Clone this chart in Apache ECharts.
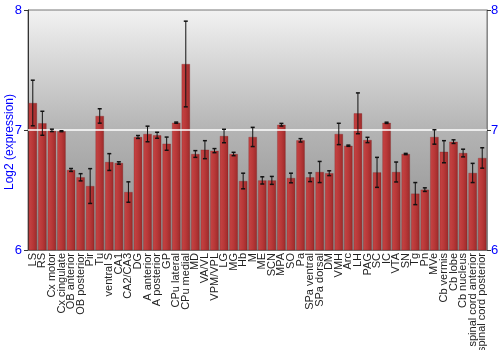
<!DOCTYPE html>
<html><head><meta charset="utf-8">
<script src="https://cdn.jsdelivr.net/npm/echarts@6/dist/echarts.min.js"></script>
<style>html,body{margin:0;padding:0;background:#fff}#c{width:500px;height:350px}</style>
</head><body><div id="c"></div>
<script>
const categories = ["LS","RS","Cx motor","Cx cingulate","OB anterior","OB posterior","Pir","Tu","ventral S","CA1","CA2/CA3","DG","A anterior","A posterior","GP","CPu lateral","CPu medial","MD","VA/VL","VPM/VPL","LG","MG","Hb","M","ME","SCN","MPA","SO","Pa","SPa ventral","SPa dorsal","DM","VMH","Arc","LH","PAG","SC","IC","VTA","SN","Tg","Pn","MVe","Cb vermis","Cb lobe","Cb nucleus","spinal cord anterior","spinal cord posterior"];
const values = [7.225,7.056,6.997,6.99,6.667,6.606,6.533,7.117,6.733,6.725,6.483,6.942,6.967,6.956,6.886,7.061,7.55,6.8,6.836,6.828,6.95,6.8,6.575,6.942,6.58,6.58,7.044,6.6,6.914,6.606,6.65,6.64,6.967,6.869,7.139,6.917,6.647,7.06,6.65,6.8,6.47,6.503,6.942,6.819,6.903,6.808,6.642,6.767];
const errors = [0.19,0.1,0.01,0.004,0.012,0.03,0.145,0.06,0.07,0.01,0.085,0.012,0.065,0.025,0.055,0.005,0.357,0.028,0.075,0.017,0.056,0.014,0.065,0.08,0.03,0.033,0.011,0.04,0.014,0.036,0.088,0.02,0.089,0.005,0.17,0.022,0.125,0.005,0.083,0.005,0.092,0.015,0.06,0.092,0.015,0.032,0.08,0.085];
const yTicks = [6,7,8];
const yTitle = 'Log2 (expression)';

const chart = echarts.init(document.getElementById('c'), null, {renderer:'canvas'});
const errData = values.map((v,i)=>[i, v-errors[i], v+errors[i]]);
chart.setOption({
  animation:false,
  graphic:[{type:'text',x:10,y:142,rotation:Math.PI/2,
    style:{text:yTitle,fill:'#0000ff',font:'12px "Liberation Sans", Arial',align:'center',verticalAlign:'middle'}}],
  grid:{left:28,right:13,top:10,bottom:100,containLabel:false,outerBoundsMode:'none',show:true,borderColor:'#777',borderWidth:1,
    backgroundColor:new echarts.graphic.LinearGradient(0,0,0,1,[
      {offset:0,color:'#f2f2f2'},{offset:0.5,color:'#b4b4b4'},{offset:1,color:'#8c8c8c'}])},
  xAxis:{type:'category',data:categories,
    axisLine:{show:true,lineStyle:{color:'#777'}},axisTick:{show:false},
    axisLabel:{rotate:90,interval:0,fontFamily:'Liberation Sans, Arial',fontSize:11,color:'#222',margin:3}},
  yAxis:[
    {type:'value',min:yTicks[0],max:yTicks[2],interval:1,position:'left',
     axisLine:{show:true,lineStyle:{color:'#333'}},axisTick:{show:true,length:4,lineStyle:{color:'#333'}},
     axisLabel:{color:'#0000ff',fontFamily:'Liberation Sans, Arial',fontSize:13,margin:6},
     splitLine:{show:false}},
    {type:'value',min:yTicks[0],max:yTicks[2],interval:1,position:'right',
     axisLine:{show:true,lineStyle:{color:'#888'}},axisTick:{show:true,length:4,lineStyle:{color:'#333'}},
     axisLabel:{color:'#0000ff',fontFamily:'Liberation Sans, Arial',fontSize:13,margin:4},
     splitLine:{show:false}}
  ],
  series:[
    {type:'bar',data:values,barCategoryGap:'12%',
     itemStyle:{color:new echarts.graphic.LinearGradient(0,0,1,0,[
       {offset:0,color:'#c64444'},{offset:0.5,color:'#b83838'},{offset:1,color:'#9c2a2a'}]),
       borderColor:'rgba(120,20,20,0.5)',borderWidth:0.5},
     markLine:{silent:true,symbol:'none',label:{show:false},
       lineStyle:{color:'#ffffff',width:1.5,type:'solid'},data:[{yAxis:7}]},
     z:2},
    {type:'custom',data:errData,z:5,
     renderItem:function(params,api){
       const x=api.value(0);
       const lo=api.coord([x,api.value(1)]);
       const hi=api.coord([x,api.value(2)]);
       const w=2;
       const st={stroke:'#111',lineWidth:1};
       return {type:'group',children:[
         {type:'line',shape:{x1:lo[0],y1:lo[1],x2:hi[0],y2:hi[1]},style:st},
         {type:'line',shape:{x1:lo[0]-w,y1:lo[1],x2:lo[0]+w,y2:lo[1]},style:{stroke:'#111',lineWidth:1.5}},
         {type:'line',shape:{x1:hi[0]-w,y1:hi[1],x2:hi[0]+w,y2:hi[1]},style:{stroke:'#111',lineWidth:1.5}}
       ]};
     }}
  ]
});
</script></body></html>
